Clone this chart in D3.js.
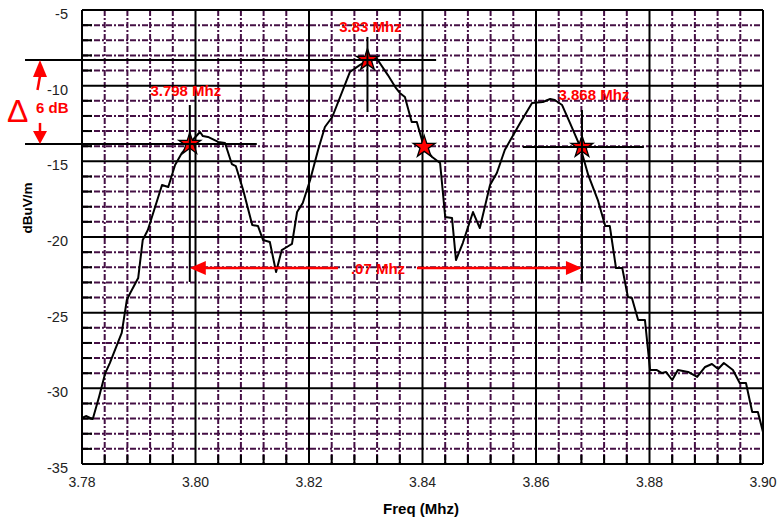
<!DOCTYPE html>
<html>
<head>
<meta charset="utf-8">
<script src="https://d3js.org/d3.v7.min.js"></script>
<style>
  body { margin: 0; background: #fff; }
  text { font-family: Arial, "Liberation Sans", sans-serif; }
</style>
</head>
<body>
<svg width="778" height="522"></svg>
<script>
// spectrum trace
const freq = [3.7800, 3.7807, 3.7819, 3.7830, 3.7841, 3.7849, 3.7870, 3.7879, 3.7885, 3.7899,
    3.7907, 3.7916, 3.7941, 3.7952, 3.7964, 3.7976, 3.7990, 3.8008, 3.8013, 3.8022,
    3.8040, 3.8052, 3.8064, 3.8071, 3.8084, 3.8100, 3.8110, 3.8119, 3.8131, 3.8142,
    3.8152, 3.8161, 3.8170, 3.8179, 3.8189, 3.8202, 3.8216, 3.8228, 3.8241, 3.8272,
    3.8290, 3.8304, 3.8320, 3.8339, 3.8352, 3.8360, 3.8369, 3.8381, 3.8390, 3.8399,
    3.8403, 3.8417, 3.8431, 3.8440, 3.8452, 3.8459, 3.8471, 3.8489, 3.8501, 3.8519,
    3.8531, 3.8545, 3.8572, 3.8593, 3.8612, 3.8625, 3.8633, 3.8646, 3.8660, 3.8678,
    3.8692, 3.8709, 3.8722, 3.8730, 3.8741, 3.8752, 3.8762, 3.8769, 3.8780, 3.8792,
    3.8801, 3.8813, 3.8822, 3.8829, 3.8840, 3.8850, 3.8868, 3.8884, 3.8898, 3.8910,
    3.8921, 3.8931, 3.8947, 3.8959, 3.8970, 3.8981, 3.8991, 3.9000];
const level = [-31.96, -31.83, -32.03, -30.57, -28.99, -28.33, -26.34, -24.16, -23.70, -22.71,
    -20.20, -19.54, -16.56, -16.70, -15.24, -14.45, -13.79, -13.06, -13.33, -13.39,
    -13.72, -13.79, -15.18, -15.31, -16.89, -19.21, -19.27, -20.20, -20.33, -22.31,
    -20.86, -20.66, -20.46, -18.35, -17.75, -16.23, -14.25, -12.73, -12.07, -9.10,
    -8.63, -8.24, -8.24, -9.30, -10.09, -10.48, -10.75, -12.40, -12.40, -13.59,
    -14.12, -14.71, -15.11, -18.68, -18.74, -21.52, -20.40, -18.35, -19.41, -16.56,
    -15.77, -14.25, -12.47, -11.15, -11.08, -10.88, -10.95, -11.28, -12.47, -14.05,
    -15.90, -17.56, -19.27, -19.27, -22.05, -22.05, -23.97, -24.03, -25.49, -25.49,
    -28.79, -28.79, -28.99, -28.92, -29.45, -28.79, -28.92, -29.25, -28.59, -28.39,
    -28.72, -28.33, -28.79, -29.65, -29.65, -31.56, -31.56, -32.89];

const xTicks = [3.78, 3.80, 3.82, 3.84, 3.86, 3.88, 3.90];
const yTicks = [-5, -10, -15, -20, -25, -30, -35];

// star markers
const markerFreq = [3.7990, 3.8303, 3.8403, 3.8681];
const markerLevel = [-13.85, -8.30, -14.05, -14.05];
const markerLabel = ["3.798 Mhz", "3.83 Mhz", "", "3.868 Mhz"];

const bandwidthLabel = ".07 Mhz";
const deltaLabel = "6 dB";

const svg = d3.select("svg");
const x = d3.scaleLinear().domain([3.78, 3.90]).range([82, 763]);
const y = d3.scaleLinear().domain([-35, -5]).range([464, 10]);

const red = "#ff0000";
const minorColor = "#451045";

// minor grid (dash-dot purple)
const xMinor = d3.range(0, 31).map(i => 3.78 + i * 0.004).filter((d, i) => i % 5 !== 0);
const yMinor = d3.range(-35, -4).filter(d => d % 5 !== 0);

const grid = svg.append("g");
grid.selectAll(".vmin").data(xMinor).enter().append("line")
    .attr("x1", d => x(d)).attr("x2", d => x(d))
    .attr("y1", y(-5)).attr("y2", y(-35))
    .attr("stroke", minorColor).attr("stroke-width", 2)
    .attr("stroke-dasharray", "6,2,2,2");
grid.selectAll(".hmin").data(yMinor).enter().append("line")
    .attr("x1", x(3.78)).attr("x2", x(3.90))
    .attr("y1", d => y(d)).attr("y2", d => y(d))
    .attr("stroke", minorColor).attr("stroke-width", 2)
    .attr("stroke-dasharray", "6,2,2,2");

// inside minor ticks
grid.selectAll(".ltick").data(yMinor).enter().append("line")
    .attr("x1", x(3.78)).attr("x2", x(3.78) + 10)
    .attr("y1", d => y(d)).attr("y2", d => y(d))
    .attr("stroke", "#000").attr("stroke-width", 2);
grid.selectAll(".btick").data(xMinor).enter().append("line")
    .attr("x1", d => x(d)).attr("x2", d => x(d))
    .attr("y1", y(-35)).attr("y2", y(-35) - 9)
    .attr("stroke", "#000").attr("stroke-width", 2);

// major grid
grid.selectAll(".vmaj").data(xTicks).enter().append("line")
    .attr("x1", d => x(d)).attr("x2", d => x(d))
    .attr("y1", y(-5)).attr("y2", y(-35))
    .attr("stroke", "#000").attr("stroke-width", 2);
grid.selectAll(".hmaj").data(yTicks).enter().append("line")
    .attr("x1", x(3.78)).attr("x2", x(3.90))
    .attr("y1", d => y(d)).attr("y2", d => y(d))
    .attr("stroke", "#000").attr("stroke-width", 2);

// tick labels
svg.append("g").selectAll("text").data(xTicks).enter().append("text")
    .attr("x", d => x(d)).attr("y", y(-35) + 23)
    .attr("text-anchor", "middle").attr("font-size", 14).attr("fill", "#222")
    .text(d => d3.format(".2f")(d));
svg.append("g").selectAll("text").data(yTicks).enter().append("text")
    .attr("x", 68).attr("y", d => y(d) + 9)
    .attr("text-anchor", "end").attr("font-size", 14.5).attr("fill", "#222")
    .text(d => d);

// axis titles
svg.append("text")
    .attr("x", 421).attr("y", 514)
    .attr("text-anchor", "middle").attr("font-size", 15).attr("font-weight", "bold")
    .text("Freq (Mhz)");
svg.append("text")
    .attr("transform", "translate(32,208) rotate(-90)")
    .attr("text-anchor", "middle").attr("font-size", 13.5).attr("font-weight", "bold")
    .text("dBuV/m");

// trace
const pts = freq.map((f, i) => [f, level[i]]);
svg.append("path")
    .datum(pts)
    .attr("fill", "none").attr("stroke", "#000").attr("stroke-width", 2)
    .attr("stroke-linejoin", "round")
    .attr("d", d3.line().x(d => x(d[0])).y(d => y(d[1])));

// star markers
svg.append("g").selectAll("path").data(markerFreq).enter().append("path")
    .attr("transform", (d, i) => `translate(${x(d)},${y(markerLevel[i])})`)
    .attr("d", d3.symbol().type(d3.symbolStar).size(150))
    .attr("fill", red).attr("stroke", "#000").attr("stroke-width", 1.3);

// cursor lines
const cross = [
    { f: [3.7990, 3.7990], db: [-11.28, -22.97] },
    { f: [3.76996, 3.8108], db: [-13.85, -13.85] },
    { f: [3.8303, 3.8303], db: [-6.78, -11.74] },
    { f: [3.76996, 3.8424], db: [-8.30, -8.30] },
    { f: [3.8681, 3.8681], db: [-11.61, -23.04] },
    { f: [3.8577, 3.8790], db: [-14.05, -14.05] }
];
svg.append("g").selectAll("line").data(cross).enter().append("line")
    .attr("x1", d => x(d.f[0])).attr("x2", d => x(d.f[1]))
    .attr("y1", d => y(d.db[0])).attr("y2", d => y(d.db[1]))
    .attr("stroke", "#000").attr("stroke-width", 2);

// marker labels
const labelDx = [-4, 3, 0, 12];
const labelDy = [-48, -28, 0, -47];
svg.append("g").selectAll("text").data(markerLabel).enter().append("text")
    .attr("x", (d, i) => x(markerFreq[i]) + labelDx[i])
    .attr("y", (d, i) => y(markerLevel[i]) + labelDy[i])
    .attr("text-anchor", "middle").attr("font-size", 15).attr("font-weight", "bold")
    .attr("fill", red)
    .text(d => d);

// bandwidth arrow
const bwY = y(-22.05);
const xl = x(markerFreq[0]), xr = x(markerFreq[3]);
const ann = svg.append("g");
ann.append("line").attr("x1", xl + 14).attr("x2", 338).attr("y1", bwY).attr("y2", bwY)
    .attr("stroke", red).attr("stroke-width", 2.5);
ann.append("line").attr("x1", 417).attr("x2", xr - 14).attr("y1", bwY).attr("y2", bwY)
    .attr("stroke", red).attr("stroke-width", 2.5);
ann.append("path").attr("fill", red)
    .attr("d", `M${xl},${bwY}L${xl + 16},${bwY - 7}L${xl + 16},${bwY + 7}Z`);
ann.append("path").attr("fill", red)
    .attr("d", `M${xr},${bwY}L${xr - 16},${bwY - 7}L${xr - 16},${bwY + 7}Z`);
ann.append("text").attr("x", 378).attr("y", bwY + 6)
    .attr("text-anchor", "middle").attr("font-size", 15).attr("font-weight", "bold")
    .attr("fill", red).text(bandwidthLabel);

// 6 dB delta annotation
const yTop = y(markerLevel[1]), yLow = y(markerLevel[0]);
ann.append("path").attr("fill", red)
    .attr("d", `M40,${yTop}L47,${yTop + 17}L33,${yTop + 17}Z`);
ann.append("line").attr("x1", 40).attr("y1", yTop + 16).attr("x2", 37.5).attr("y2", yTop + 30)
    .attr("stroke", red).attr("stroke-width", 2.5);
ann.append("path").attr("fill", red)
    .attr("d", `M40,${yLow}L47,${yLow - 13}L33,${yLow - 13}Z`);
ann.append("line").attr("x1", 40).attr("y1", yLow - 21).attr("x2", 40).attr("y2", yLow - 12)
    .attr("stroke", red).attr("stroke-width", 2.5);
ann.append("text").attr("x", 7).attr("y", 122)
    .attr("font-size", 32).attr("fill", red).text("Δ");
ann.append("text").attr("x", 36).attr("y", 113)
    .attr("font-size", 15).attr("font-weight", "bold").attr("fill", red).text(deltaLabel);
</script>
</body>
</html>
